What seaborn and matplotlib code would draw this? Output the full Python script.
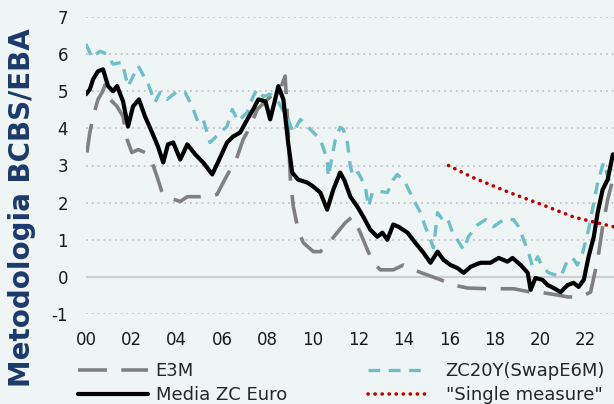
import matplotlib
matplotlib.use("Agg")
import matplotlib.pyplot as plt
import seaborn as sns
import pandas as pd
from matplotlib.lines import Line2D

# ---- data (x = years since 2000) ----
e3m_x = [0.04, 0.17, 0.31, 0.53, 0.71, 0.84, 1.06, 1.37, 1.63, 1.81, 2.02, 2.30, 2.60, 2.91, 3.13,
         3.35, 3.61, 4.15, 4.46, 5.03, 5.60, 5.77, 6.04, 6.35, 6.66, 6.92, 7.23, 7.54, 8.11, 8.58,
         8.77, 8.90, 9.00, 9.13, 9.34, 9.57, 10.01, 10.32, 10.62, 11.06, 11.42, 11.73, 12.08,
         12.39, 12.65, 12.96, 13.53, 13.98, 14.42, 15.04, 15.62, 16.18, 16.80, 17.68, 18.83,
         19.58, 20.15, 20.77, 21.21, 21.79, 22.22, 22.53, 22.75, 22.97, 23.23]
e3m_y = [3.35, 3.89, 4.32, 4.78, 4.97, 5.17, 4.78, 4.59, 4.32, 3.70, 3.35, 3.43, 3.35, 3.08, 2.70,
         2.27, 2.14, 2.03, 2.16, 2.16, 2.20, 2.22, 2.54, 2.89, 3.24, 3.70, 4.05, 4.51, 4.85, 5.10,
         5.41, 3.97, 2.62, 1.89, 1.27, 0.92, 0.68, 0.68, 0.86, 1.19, 1.46, 1.62, 1.19,
         0.73, 0.38, 0.19, 0.19, 0.32, 0.19, 0.05, -0.08, -0.22, -0.30, -0.32, -0.32,
         -0.41, -0.43, -0.49, -0.54, -0.54, -0.41, 0.46, 1.35, 2.08, 2.70]

zc20_x = [0.00, 0.27, 0.61, 0.92, 1.19, 1.59, 1.85, 2.30, 2.74, 3.04, 3.26, 3.57, 4.02, 4.36, 4.67,
          4.94, 5.16, 5.46, 5.60, 5.90, 6.21, 6.44, 6.70, 7.10, 7.36, 7.54, 7.80, 8.11, 8.24, 8.47,
          8.90, 9.13, 9.44, 9.88, 10.32, 10.62, 10.67, 10.98, 11.19, 11.33, 11.51, 11.64, 11.77,
          11.99, 12.30, 12.44, 12.61, 12.96, 13.27, 13.53, 13.71, 14.06, 14.42, 14.73, 14.94,
          15.17, 15.30, 15.48, 15.70, 15.91, 16.14, 16.35, 16.63, 16.84, 17.24, 17.59, 17.94,
          18.38, 18.83, 19.05, 19.27, 19.49, 19.66, 19.89, 20.10, 20.37, 20.68, 20.90, 21.21,
          21.43, 21.64, 21.87, 22.13, 22.36, 22.53, 22.79, 23.02, 23.23]
zc20_y = [6.27, 5.90, 6.08, 6.00, 5.73, 5.78, 5.13, 5.68, 5.19, 4.70, 4.97, 4.78, 5.00, 4.97, 4.60,
          4.16, 4.24, 3.62, 3.70, 3.89, 4.05, 4.51, 4.19, 4.43, 4.86, 5.05, 4.86, 4.92, 4.86, 4.70,
          4.24, 3.89, 4.24, 3.97, 3.70, 3.16, 2.70, 3.70, 4.03, 3.97, 3.62, 2.97, 2.70,
          2.81, 2.43, 1.89, 2.27, 2.30, 2.27, 2.62, 2.76, 2.54, 2.08, 1.73, 1.35,
          1.00, 0.78, 1.73, 1.54, 1.59, 1.19, 1.00, 0.73, 1.08, 1.40, 1.54, 1.35,
          1.54, 1.54, 1.35, 1.00, 0.65, 0.27, 0.54, 0.27, 0.11, 0.05, 0.00, 0.46,
          0.51, 0.32, 0.65, 1.27, 2.00, 2.54, 3.08, 2.62, 2.89]

media_x = [0.00, 0.17, 0.31, 0.53, 0.75, 0.97, 1.19, 1.37, 1.63, 1.85, 2.07, 2.33, 2.60, 2.91, 3.17,
           3.40, 3.61, 3.84, 4.15, 4.46, 4.81, 5.16, 5.56, 5.82, 6.21, 6.48, 6.79, 7.10, 7.36, 7.59,
           7.90, 8.11, 8.33, 8.47, 8.69, 8.90, 9.08, 9.34, 9.75, 10.01, 10.32, 10.62, 10.89, 11.19,
           11.38, 11.64, 11.95, 12.21, 12.52, 12.83, 13.05, 13.27, 13.53, 13.76, 14.16, 14.50, 14.86,
           15.17, 15.48, 15.74, 16.05, 16.35, 16.63, 16.93, 17.24, 17.37, 17.81, 18.17, 18.56, 18.78,
           19.14, 19.45, 19.58, 19.79, 20.10, 20.33, 20.59, 20.90, 21.21, 21.47, 21.69, 21.92, 22.13,
           22.36, 22.53, 22.75, 22.97, 23.20]
media_y = [4.92, 5.05, 5.32, 5.54, 5.59, 5.14, 5.00, 5.14, 4.73, 4.05, 4.59, 4.78, 4.32, 3.89, 3.51,
           3.08, 3.57, 3.62, 3.16, 3.57, 3.30, 3.08, 2.76, 3.10, 3.62, 3.78, 3.89, 4.24, 4.51, 4.78,
           4.73, 4.24, 4.78, 5.14, 4.78, 3.62, 2.81, 2.62, 2.54, 2.43, 2.27, 1.81, 2.35, 2.81,
           2.60, 2.16, 1.89, 1.62, 1.27, 1.08, 1.19, 1.00, 1.41, 1.35, 1.19, 0.92, 0.65,
           0.38, 0.68, 0.46, 0.32, 0.24, 0.11, 0.27, 0.35, 0.38, 0.38, 0.51, 0.41, 0.51,
           0.32, 0.11, -0.35, -0.03, -0.08, -0.22, -0.30, -0.41, -0.22, -0.16, -0.27, -0.08, 0.54,
           1.08, 1.73, 2.35, 2.62, 3.30]

single_x = [15.96, 17.02, 18.65, 20.06, 21.48, 23.23]
single_y = [3.00, 2.68, 2.27, 1.95, 1.61, 1.35]

tick_pos = [0, 2, 4, 6, 8, 10, 12, 14, 16, 18, 20, 22]
tick_labels = ["00", "02", "04", "06", "08", "10", "12", "14", "16", "18", "20", "22"]
y_ticks = [-1, 0, 1, 2, 3, 4, 5, 6, 7]

labels = ["E3M", "Media ZC Euro", "ZC20Y(SwapE6M)", '"Single measure"']

# ---- style ----
sns.set_theme(style="white")
plt.rcParams["font.family"] = ["DejaVu Sans"]
BG = "#eff5f5"

fig = plt.figure(figsize=(6.14, 4.04), dpi=100, facecolor=BG)
ax = fig.add_axes([86 / 614, 1 - 314 / 404, (614 - 86) / 614, 297 / 404])
ax.set_facecolor(BG)

# grid
for yv in y_ticks:
    if yv == 0:
        ax.axhline(0, color="#cfcfcf", lw=1.6, ls="-", zorder=1)
    else:
        ax.axhline(yv, color="#c4c4c4", lw=1.3, ls=(0, (1, 2.2)), zorder=1)

grey = "#808080"
cyan = "#6dbfc6"
red = "#c00000"
e3m_ls = (0, (8, 4))
zc_ls = (0, (3.5, 2.6))
dot_ls = (0, (0.05, 1.9))

df_e3m = pd.DataFrame({"x": e3m_x, "y": e3m_y})
df_zc = pd.DataFrame({"x": zc20_x, "y": zc20_y})
df_med = pd.DataFrame({"x": media_x, "y": media_y})
df_sm = pd.DataFrame({"x": single_x, "y": single_y})

sns.lineplot(data=df_e3m, x="x", y="y", ax=ax, color=grey, lw=2.6,
             ls=e3m_ls, estimator=None, zorder=3)
sns.lineplot(data=df_zc, x="x", y="y", ax=ax, color=cyan, lw=2.4,
             ls=zc_ls, estimator=None, zorder=4)
sns.lineplot(data=df_med, x="x", y="y", ax=ax, color="black", lw=3.0,
             ls="-", estimator=None, zorder=5)
sns.lineplot(data=df_sm, x="x", y="y", ax=ax, color=red, lw=2.6,
             ls=dot_ls, dash_capstyle="round", estimator=None, zorder=6)

ax.set_xlim(0, 23.25)
ax.set_ylim(-1, 7)
ax.set_xticks(tick_pos)
ax.set_xticklabels(tick_labels)
ax.set_yticks(y_ticks)
ax.set_yticklabels([str(v) for v in y_ticks])
ax.tick_params(axis="both", length=0, labelsize=12, colors="#1a1a1a")
ax.tick_params(axis="y", pad=13)
ax.tick_params(axis="x", pad=12)
ax.set_xlabel("")
ax.set_ylabel("")
for s in ax.spines.values():
    s.set_visible(False)

fig.text(22 / 614, 1 - 208 / 404, "Metodologia BCBS/EBA", rotation=90,
         ha="center", va="center", fontsize=20, fontweight="bold", color="#1b3a6b")

h_left = [
    Line2D([], [], color=grey, lw=2.6, ls=e3m_ls),
    Line2D([], [], color="black", lw=3.0),
]
h_right = [
    Line2D([], [], color=cyan, lw=2.4, ls=zc_ls),
    Line2D([], [], color=red, lw=2.6, ls=dot_ls, dash_capstyle="round"),
]
common = dict(loc="upper left", frameon=False, fontsize=13, borderpad=0,
              borderaxespad=0, labelspacing=0.36, labelcolor="#262626")
fig.legend(h_left, labels[:2], bbox_to_anchor=(78 / 614, 1 - 362 / 404),
           handlelength=3.9, handletextpad=0.4, **common)
fig.legend(h_right, labels[2:], bbox_to_anchor=(368 / 614, 1 - 362 / 404),
           handlelength=3.3, handletextpad=1.0, **common)

fig.savefig("out.png", dpi=100, facecolor=BG)
